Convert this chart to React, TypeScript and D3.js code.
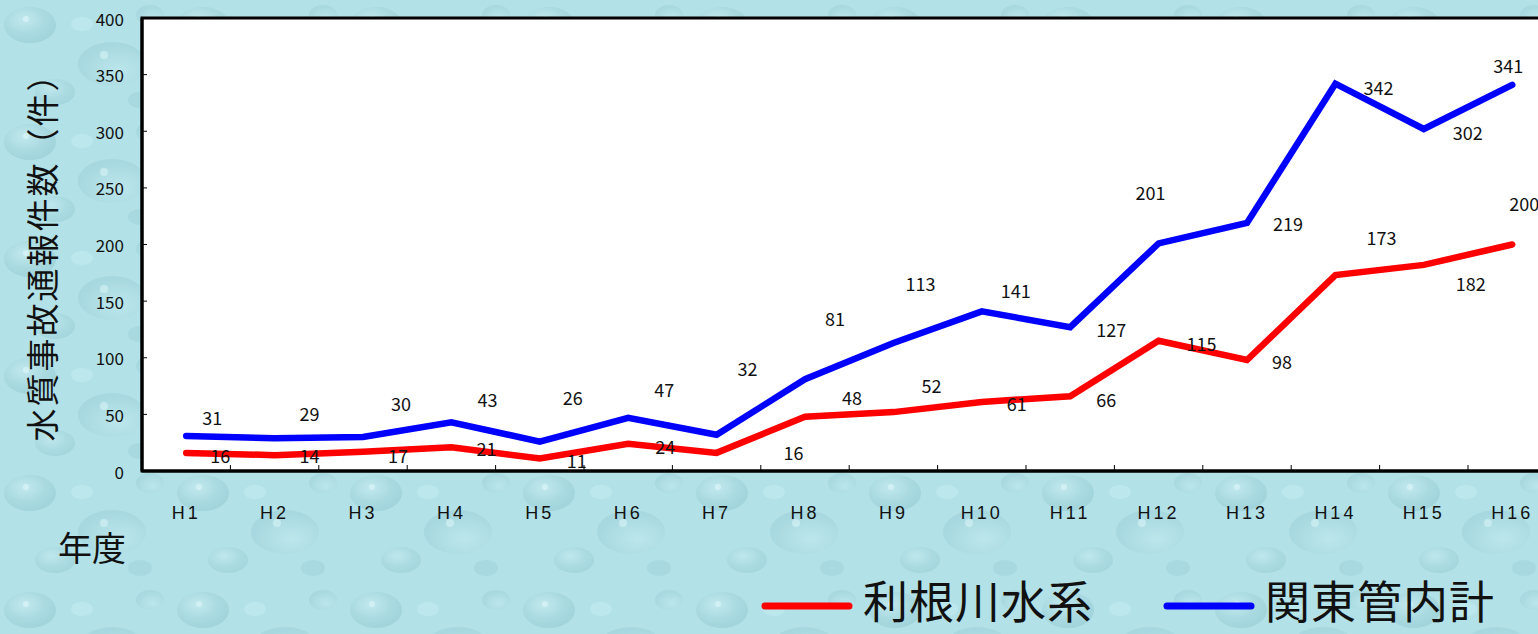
import React from "react";
import * as d3 from "d3";

// 年度 (x categories)
const years = ["H1", "H2", "H3", "H4", "H5", "H6", "H7", "H8", "H9", "H10", "H11", "H12", "H13", "H14", "H15", "H16"];
// 利根川水系
const toneValues = [16, 14, 17, 21, 11, 24, 16, 48, 52, 61, 66, 115, 98, 173, 182, 200];
// 関東管内計
const kantoValues = [31, 29, 30, 43, 26, 47, 32, 81, 113, 141, 127, 201, 219, 342, 302, 341];
const yTicks = [0, 50, 100, 150, 200, 250, 300, 350, 400];

const seriesNames = ["利根川水系", "関東管内計"];

// label nudges (px from each point) - the original labels were placed by hand
const toneLabelNudge = [
  [34, 2], [35, 0], [35, 3], [35, 1], [37, 1], [37, 2], [77, -1], [47, -20],
  [38, -27], [35, 1], [36, 3], [43, 2], [35, 1], [46, -38], [47, 18], [12, -42],
];
const kantoLabelNudge = [
  [26, -19], [35, -25], [38, -34], [36, -23], [33, -45], [36, -29], [31, -67], [30, -61],
  [27, -60], [34, -21], [41, 2], [-8, -51], [41, 0], [43, 3], [44, 3], [-4, -20],
];

const W = 1538;
const H = 634;
const left = 142;
const top = 18;
const bottom = 471;
const step = 88.4;

export default function App() {
  const x = d3.scaleBand<string>().domain(years).range([left, left + step * years.length]).padding(0);
  const y = d3.scaleLinear().domain([0, 400]).range([bottom, top]);
  const cx = (d: string) => (x(d) ?? 0) + x.bandwidth() / 2;

  const line = d3
    .line<number>()
    .x((_, i) => cx(years[i]))
    .y((v) => y(v));

  const numFont = "'Noto Sans CJK JP', sans-serif";
  const jpFont = "'Noto Sans CJK JP', sans-serif";

  const series = [
    { name: seriesNames[0], values: toneValues, color: "#ff0000", nudge: toneLabelNudge },
    { name: seriesNames[1], values: kantoValues, color: "#0000ff", nudge: kantoLabelNudge },
  ];

  return (
    <svg
      width={W}
      height={H}
      style={{ position: "absolute", left: 0, top: 0, display: "block" }}
      fontFamily={numFont}
    >
      <defs>
        <radialGradient id="drop" cx="40%" cy="35%" r="65%">
          <stop offset="0%" stopColor="#cdeff3" />
          <stop offset="60%" stopColor="#a3d5dc" />
          <stop offset="100%" stopColor="#93c9d1" />
        </radialGradient>
        <radialGradient id="drop2" cx="60%" cy="65%" r="60%">
          <stop offset="0%" stopColor="#c4ecf1" />
          <stop offset="100%" stopColor="#9ccfd7" />
        </radialGradient>
        <pattern id="water" width="173" height="117" patternUnits="userSpaceOnUse">
          <rect width="173" height="117" fill="#b2e1e7" />
          <ellipse cx="30" cy="25" rx="26" ry="18" fill="url(#drop)" opacity="0.55" />
          <ellipse cx="112" cy="64" rx="34" ry="22" fill="url(#drop2)" opacity="0.5" />
          <ellipse cx="55" cy="92" rx="20" ry="13" fill="url(#drop)" opacity="0.45" />
          <ellipse cx="150" cy="15" rx="14" ry="10" fill="url(#drop2)" opacity="0.45" />
          <circle cx="26" cy="19" r="3" fill="#dff7fa" opacity="0.6" />
          <circle cx="104" cy="55" r="4" fill="#dff7fa" opacity="0.5" />
          <ellipse cx="82" cy="24" rx="11" ry="7" fill="#c3ecf1" opacity="0.6" />
          <ellipse cx="140" cy="100" rx="12" ry="8" fill="#98ccd4" opacity="0.4" />
        </pattern>
      </defs>

      <rect width={W} height={H} fill="url(#water)" />

      {/* plot area */}
      <rect x={left} y={top} width={W - left + 30} height={bottom - top} fill="#ffffff" stroke="#000" strokeWidth={3} />

      {/* y ticks */}
      {yTicks.map((t) => (
        <g key={t}>
          {t > 0 && t < 400 && <line x1={left} x2={left + 5} y1={y(t)} y2={y(t)} stroke="#000" strokeWidth={1} />}
          <text x={124} y={y(t)} textAnchor="end" dominantBaseline="central" fontSize={17} fill="#111">
            {t}
          </text>
        </g>
      ))}

      {/* x ticks */}
      {years.map((d, i) => (
        <g key={d}>
          {i > 0 && <line x1={x(d)} x2={x(d)} y1={bottom} y2={bottom - 6} stroke="#000" strokeWidth={1} />}
          <text
            x={cx(d)}
            y={519}
            textAnchor="middle"
            fontSize={18}
            letterSpacing={3}
            fontFamily="'Liberation Sans', Arial, sans-serif"
            fill="#111"
          >
            {d}
          </text>
        </g>
      ))}

      {/* axes lines */}
      <line x1={left} x2={left} y1={top} y2={bottom} stroke="#000" strokeWidth={3} />
      <line x1={left} x2={W} y1={bottom} y2={bottom} stroke="#000" strokeWidth={3} />

      {/* series lines */}
      {series.map((s) => (
        <path
          key={s.name}
          d={line(s.values) ?? ""}
          fill="none"
          stroke={s.color}
          strokeWidth={6.5}
          strokeLinejoin="miter"
          strokeLinecap="round"
        />
      ))}

      {/* value labels */}
      {series.map((s) =>
        s.values.map((v, i) => (
          <text
            key={s.name + i}
            x={cx(years[i]) + s.nudge[i][0]}
            y={y(v) + s.nudge[i][1]}
            textAnchor="middle"
            dominantBaseline="central"
            fontSize={18}
            fill="#111"
          >
            {v}
          </text>
        ))
      )}

      {/* y axis title */}
      <text
        transform="translate(41,249) rotate(-90)"
        textAnchor="middle"
        dominantBaseline="central"
        fontSize={33}
        letterSpacing={2}
        fontFamily={jpFont}
        fill="#111"
      >
        水質事故通報件数（件）
      </text>

      {/* x axis title */}
      <text x={92} y={561} textAnchor="middle" fontSize={34} fontFamily={jpFont} fill="#111">
        年度
      </text>

      {/* legend */}
      {series.map((s, i) => {
        const lx = i === 0 ? 765 : 1167;
        return (
          <g key={s.name}>
            <line x1={lx} x2={lx + 84} y1={606} y2={606} stroke={s.color} strokeWidth={7} strokeLinecap="round" />
            <text x={lx + 98} y={619} fontSize={45} letterSpacing={1} fontFamily={jpFont} fill="#111">
              {s.name}
            </text>
          </g>
        );
      })}
    </svg>
  );
}
